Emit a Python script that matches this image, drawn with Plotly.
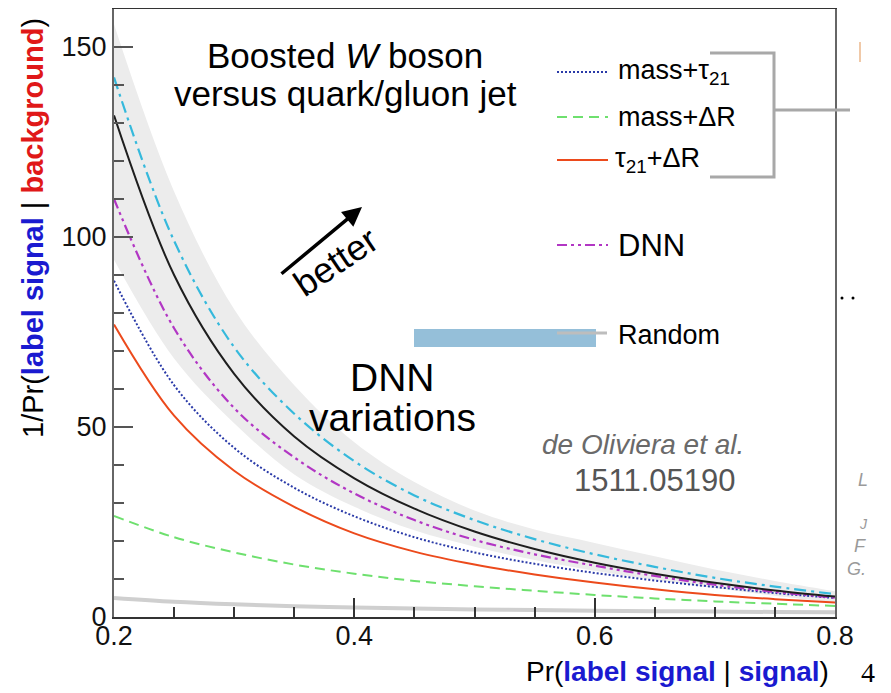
import plotly.graph_objects as go

# ---------------- data ----------------
eff_sig = [0.2, 0.25, 0.3, 0.35, 0.4, 0.45, 0.5, 0.55, 0.6, 0.65, 0.7, 0.75, 0.8]

dnn_top = [142, 99, 71, 53.5, 41, 32, 25.5, 20.5, 16.5, 13.2, 10.3, 8.0, 6.0]       # cyan dash-dot
dnn_main = [132, 90, 64, 47.5, 36.5, 28.5, 22.5, 17.9, 14.3, 11.4, 9.0, 7.0, 5.4]   # black solid
dnn_legend = [110, 76, 55, 42, 32.5, 25.5, 20.3, 16.5, 13.5, 10.8, 8.5, 6.6, 5.1]  # magenta
mass_tau21 = [88.5, 61, 44.5, 34, 26.5, 21, 17, 14, 11.6, 9.6, 7.9, 6.3, 5.0]
mass_dR = [26.6, 21, 17, 13.8, 11.4, 9.5, 8.1, 6.9, 5.8, 4.9, 4.1, 3.5, 2.9]
tau21_dR = [77, 53, 38.5, 29, 22, 17.2, 13.8, 11.2, 9.1, 7.3, 5.8, 4.7, 3.8]
random_rej = [5.0, 4.0, 3.33, 2.86, 2.5, 2.22, 2.0, 1.82, 1.67, 1.54, 1.43, 1.33, 1.25]
band_low = [94, 68, 51, 37.5, 29, 22.8, 18.5, 15, 12.2, 9.8, 7.6, 5.6, 3.8]
band_high = [156, 112, 81, 61, 46, 35.5, 28, 23, 19.5, 16, 12.5, 9.5, 6.8]

x_tick_vals = [0.2, 0.4, 0.6, 0.8]
x_tick_text = ["0.2", "0.4", "0.6", "0.8"]
y_tick_vals = [0, 50, 100, 150]
y_tick_text = ["0", "50", "100", "150"]

legend_labels = ["mass+τ<sub>21</sub>", "mass+ΔR", "τ<sub>21</sub>+ΔR", "DNN", "Random"]

# ---------------- style ----------------
FONT = "Liberation Sans, Arial, Helvetica, sans-serif"
C_CYAN = "#35b9dc"
C_BLACK = "#1e1e1e"
C_MAG = "#b236c4"
C_BLUE = "#2a3aa8"
C_GREEN = "#6ee06e"
C_RED = "#ec4a1c"
C_RAND = "#cfcfcf"
C_BAND = "#ececec"

D_CYAN = "12px,5px,3px,5px"
D_MAG = "10px,4px,3px,4px,3px,4px"
D_BLUE = "2px,2px"
D_GREEN = "10px,6px"

# page is rendered with an 8px body margin: page coords below, figure offset by OFF
OFF = 8
FIG_W, FIG_H = 891 - OFF, 693 - OFF
L, R, T, B = 114, 835, 9, 617
W, H = R - L, B - T


def px(x):
    return (x - L) / W


def py(y):
    return (B - y) / H


fig = go.Figure()

fig.add_trace(go.Scatter(x=eff_sig, y=band_low, mode="lines", line=dict(width=0, shape="spline"),
                         hoverinfo="skip", showlegend=False))
fig.add_trace(go.Scatter(x=eff_sig, y=band_high, mode="lines", line=dict(width=0, shape="spline"),
                         fill="tonexty", fillcolor=C_BAND, hoverinfo="skip", showlegend=False))
fig.add_trace(go.Scatter(x=eff_sig, y=random_rej, mode="lines",
                         line=dict(color=C_RAND, width=4, shape="spline"), showlegend=False))
fig.add_trace(go.Scatter(x=eff_sig, y=mass_dR, mode="lines",
                         line=dict(color=C_GREEN, width=2, dash=D_GREEN, shape="spline"), showlegend=False))
fig.add_trace(go.Scatter(x=eff_sig, y=tau21_dR, mode="lines",
                         line=dict(color=C_RED, width=2, shape="spline"), showlegend=False))
fig.add_trace(go.Scatter(x=eff_sig, y=mass_tau21, mode="lines",
                         line=dict(color=C_BLUE, width=2, dash=D_BLUE, shape="spline"), showlegend=False))
fig.add_trace(go.Scatter(x=eff_sig, y=dnn_legend, mode="lines",
                         line=dict(color=C_MAG, width=2.2, dash=D_MAG, shape="spline"), showlegend=False))
fig.add_trace(go.Scatter(x=eff_sig, y=dnn_main, mode="lines",
                         line=dict(color=C_BLACK, width=2, shape="spline"), showlegend=False))
fig.add_trace(go.Scatter(x=eff_sig, y=dnn_top, mode="lines",
                         line=dict(color=C_CYAN, width=2.2, dash=D_CYAN, shape="spline"), showlegend=False))

shapes = []
annotations = []


def hline(x0, x1, y, color, width=2, dash="solid"):
    shapes.append(dict(type="line", xref="paper", yref="paper", x0=px(x0), x1=px(x1), y0=py(y), y1=py(y),
                       line=dict(color=color, width=width, dash=dash)))


def text(x, y, s, size, color="#000", xanchor="center", yanchor="middle", angle=0, family=FONT):
    annotations.append(dict(xref="paper", yref="paper", x=px(x), y=py(y), text=s, showarrow=False,
                            xanchor=xanchor, yanchor=yanchor, textangle=angle,
                            font=dict(family=family, size=size, color=color)))


# legend
hline(557, 608, 72, C_BLUE, 2, D_BLUE)
hline(557, 608, 117, C_GREEN, 2, D_GREEN)
hline(557, 608, 160, C_RED, 2)
hline(557, 608, 245, C_MAG, 2.2, D_MAG)
shapes.append(dict(type="rect", xref="paper", yref="paper", x0=px(414), x1=px(596), y0=py(347), y1=py(329),
                   fillcolor="#95bfd9", line=dict(width=0)))
hline(557, 607, 333, "#bdbdbd", 3)
text(616, 72, legend_labels[0], 27, xanchor="left")
text(616, 117, legend_labels[1], 27, xanchor="left")
text(613, 160, legend_labels[2], 27, xanchor="left")
text(616, 245, legend_labels[3], 31, xanchor="left")
text(616, 335, legend_labels[4], 27, xanchor="left")

# bracket
shapes.append(dict(type="path", xref="paper", yref="paper",
                   path=f"M {px(710)} {py(53)} L {px(774)} {py(53)} L {px(774)} {py(177)} L {px(710)} {py(177)}",
                   line=dict(color="#a8a8a8", width=3)))
hline(774, 850, 110, "#a8a8a8", 3)
shapes.append(dict(type="line", xref="paper", yref="paper", x0=px(860), x1=px(860), y0=py(42), y1=py(62),
                   line=dict(color="#f0c9a8", width=2)))
for dx in (842, 853):
    shapes.append(dict(type="circle", xref="paper", yref="paper", x0=px(dx - 1.5), x1=px(dx + 1.5),
                       y0=py(296.5), y1=py(299.5), fillcolor="#000", line=dict(width=0)))

# texts in plot
text(345, 55, "Boosted <i>W</i> boson", 35)
text(345, 93, "versus quark/gluon jet", 35)
text(336, 262, "better", 36, angle=-34)
annotations.append(dict(xref="paper", yref="paper", x=px(362), y=py(207), ax=-82, ay=68, text="",
                        showarrow=True, arrowhead=2, arrowsize=1.1, arrowwidth=3.5, arrowcolor="#000"))
text(392, 377, "DNN", 39)
text(392, 417, "variations", 39)
text(643, 444, "<i>de Oliviera et al.</i>", 28, color="#6a6a6a")
text(654, 480, "1511.05190", 31, color="#555555")

# clipped slide remnants on the right
text(856, 480, "<i>L</i>", 18, color="#9a9a9a", xanchor="left")
text(857, 524, "<i>J</i>", 14, color="#9a9a9a", xanchor="left")
text(852, 546, "<i>F</i>", 18, color="#9a9a9a", xanchor="left")
text(845, 569, "<i>G.</i>", 18, color="#9a9a9a", xanchor="left")
text(868, 672, "4", 28, family="Liberation Serif, DejaVu Serif, serif")

# axis titles
text(831, 671, "Pr(<b><span style='color:#1a1ad0'>label signal</span></b> | "
               "<b><span style='color:#1a1ad0'>signal</span></b>)", 28, xanchor="right")
text(33, 228, "1/Pr(<b><span style='color:#1a1ad0'>label signal</span></b> | "
              "<b><span style='color:#e01818'>background</span></b>)", 29, angle=-90)

fig.update_layout(
    width=FIG_W, height=FIG_H,
    margin=dict(l=L - OFF, r=FIG_W - (R - OFF), t=T - OFF, b=FIG_H - (B - OFF), autoexpand=False),
    paper_bgcolor="white", plot_bgcolor="white",
    showlegend=False,
    shapes=shapes, annotations=annotations,
)
fig.update_xaxes(range=[0.2, 0.8], tickmode="array", tickvals=x_tick_vals, ticktext=x_tick_text,
                 ticks="inside", ticklen=19, tickwidth=1.5, tickcolor="#333",
                 minor=dict(tick0=0.2, dtick=0.05, ticks="inside", ticklen=10, tickwidth=1.5, tickcolor="#333"),
                 showline=True, linecolor="#333", linewidth=2, mirror=True,
                 showgrid=False, zeroline=False, ticklabelstandoff=-6,
                 tickfont=dict(family=FONT, size=27, color="#111"))
fig.update_yaxes(range=[0, 160], tickmode="array", tickvals=y_tick_vals, ticktext=y_tick_text,
                 ticks="inside", ticklen=19, tickwidth=1.5, tickcolor="#555",
                 minor=dict(tick0=0, dtick=10, ticks="inside", ticklen=10, tickwidth=1.5, tickcolor="#555"),
                 showline=True, linecolor="#666", linewidth=2, mirror=True,
                 showgrid=False, zeroline=False,
                 tickfont=dict(family=FONT, size=27, color="#111"))

fig.write_html("out.html")
